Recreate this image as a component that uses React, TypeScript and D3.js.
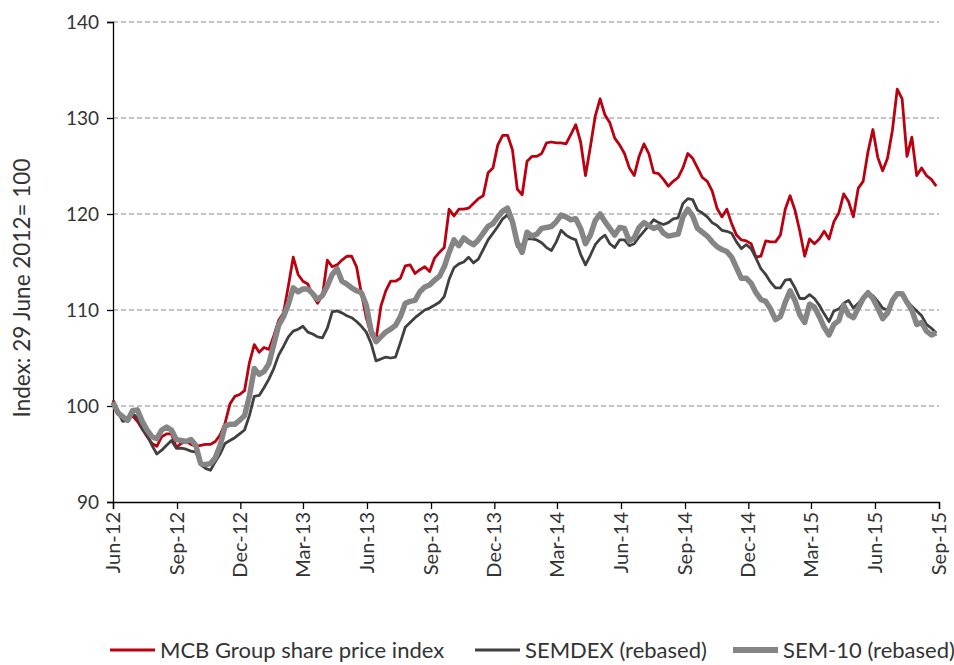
import React, { useEffect, useRef } from 'react';
import * as d3 from 'd3';

// weekly closes, first point = 29 June 2012 (index base 100)
const START_DATE = new Date(2012, 5, 29);

const mcbIndex = [
  100.6, 99.5, 98.6, 98.6, 99.0, 98.4, 97.6, 96.8, 96.1, 95.8,
  96.8, 97.1, 97.1, 95.7, 96.1, 96.3, 96.0, 95.8, 95.9, 96.0,
  96.0, 96.3, 97.0, 98.2, 100.2, 101.0, 101.2, 101.6, 104.5, 106.4,
  105.6, 106.1, 105.9, 107.3, 108.9, 109.7, 112.5, 115.5, 113.7, 113.0,
  112.7, 111.5, 110.7, 111.5, 115.2, 114.5, 114.7, 115.2, 115.6, 115.6,
  114.5, 111.7, 109.2, 107.4, 106.9, 110.4, 112.0, 113.0, 113.0, 113.3,
  114.6, 114.7, 113.8, 114.2, 114.5, 114.0, 115.4, 116.0, 116.5, 120.5,
  119.8, 120.5, 120.5, 120.6, 121.1, 121.6, 121.9, 124.3, 124.8, 127.2,
  128.2, 128.2, 126.7, 122.6, 122.0, 125.5, 126.0, 126.0, 126.3, 127.4,
  127.5, 127.4, 127.4, 127.3, 128.3, 129.3, 127.5, 124.0, 127.0, 130.2,
  132.0, 130.3, 129.5, 127.9, 127.2, 126.3, 124.8, 124.0, 126.0, 127.3,
  126.3, 124.3, 124.2, 123.6, 122.9, 123.4, 123.8, 124.8, 126.3, 125.8,
  124.8, 123.8, 123.4, 122.4, 120.6, 119.7, 120.5, 119.0, 117.8, 117.3,
  117.2, 116.9, 115.5, 115.6, 117.2, 117.1, 117.1, 117.8, 120.5, 121.9,
  120.4, 118.2, 115.6, 117.4, 116.9, 117.4, 118.2, 117.4, 119.2, 120.1,
  122.1, 121.3, 119.7, 122.7, 123.4, 126.5, 128.8, 125.9, 124.5, 125.8,
  128.7, 133.0, 132.0, 126.0, 128.0, 124.0, 124.8, 124.0, 123.6, 122.9,
];

const semdex = [
  100.5, 99.4, 98.4, 98.5, 99.2, 98.8, 97.6, 97.0, 95.9, 95.0,
  95.4, 95.9, 96.4, 95.6, 95.6, 95.5, 95.3, 95.2, 93.9, 93.5,
  93.3, 94.2, 95.0, 96.1, 96.4, 96.7, 97.1, 97.5, 99.0, 101.0,
  101.1, 101.9, 102.8, 103.9, 105.3, 106.2, 107.2, 107.8, 108.0, 108.3,
  107.7, 107.5, 107.2, 107.1, 108.1, 109.8, 109.9, 109.7, 109.4, 109.2,
  108.8, 108.3, 107.7, 106.5, 104.7, 104.9, 105.1, 105.0, 105.1, 106.6,
  108.2, 108.7, 109.2, 109.6, 110.0, 110.2, 110.5, 110.8, 111.4, 113.2,
  114.4, 114.8, 115.0, 115.5, 114.9, 115.3, 116.3, 117.3, 118.0, 118.7,
  119.5, 119.9, 119.0, 116.6, 116.8, 117.4, 117.4, 117.3, 117.0, 116.5,
  116.2, 117.1, 118.3, 117.8, 117.5, 117.3, 115.8, 114.7, 115.7, 116.8,
  117.4, 117.8, 116.9, 116.5, 117.3, 117.3, 116.7, 116.9, 117.6, 118.2,
  118.8, 119.4, 119.1, 118.9, 119.1, 119.5, 119.6, 121.1, 121.6, 121.5,
  120.4, 120.1, 119.7, 119.1, 118.8, 118.3, 118.2, 118.0, 117.1, 116.4,
  116.8, 116.4, 115.4, 114.3, 113.7, 112.9, 112.3, 112.3, 113.1, 113.2,
  112.3, 111.2, 111.2, 111.6, 111.2, 110.5, 109.6, 108.8, 109.9, 110.1,
  110.7, 111.0, 110.2, 110.7, 111.3, 111.8, 111.5, 110.9, 110.2, 110.0,
  111.0, 111.7, 111.7, 110.9, 110.4, 109.9, 109.4, 108.5, 108.1, 107.6,
];

const sem10 = [
  100.4, 99.3, 98.9, 98.5, 99.5, 99.6, 98.4, 97.5, 96.8, 96.6,
  97.5, 97.8, 97.5, 96.5, 96.4, 96.3, 96.5, 95.9, 94.0, 93.9,
  94.0, 94.6, 95.9, 97.9, 98.1, 98.1, 98.5, 99.0, 101.0, 103.9,
  103.3, 103.6, 104.4, 106.4, 108.4, 109.3, 110.6, 112.3, 111.9, 112.2,
  112.2, 111.7, 111.1, 111.5, 112.5, 113.7, 114.3, 113.0, 112.7, 112.3,
  112.0, 111.8, 110.5, 107.8, 106.7, 107.2, 107.7, 108.0, 108.4, 109.3,
  110.7, 110.9, 111.0, 111.9, 112.4, 112.6, 113.1, 113.5, 114.5, 116.0,
  117.3, 116.7, 117.5, 117.1, 116.8, 117.3, 118.0, 118.7, 119.0, 119.7,
  120.3, 120.6, 119.2, 117.0, 116.0, 118.1, 117.7, 117.9, 118.5, 118.6,
  118.7, 119.2, 119.9, 119.7, 119.4, 119.5, 118.5, 116.9, 117.8, 119.3,
  120.0, 119.2, 118.5, 117.8, 118.6, 118.5, 117.2, 117.5, 118.6, 119.1,
  118.8, 118.5, 118.7, 118.0, 117.7, 117.8, 117.9, 119.7, 120.5, 119.8,
  118.5, 118.1, 117.7, 117.1, 116.6, 116.3, 116.1, 115.5, 114.4, 113.3,
  113.3, 112.8, 111.8, 111.1, 110.9, 110.1, 109.0, 109.3, 110.8, 112.0,
  111.0, 109.5, 108.7, 110.6, 110.3, 109.3, 108.2, 107.4, 108.5, 108.9,
  110.5, 109.5, 109.2, 110.2, 111.2, 111.8, 111.2, 110.2, 109.1, 109.7,
  111.0, 111.7, 111.7, 110.8, 110.0, 108.5, 108.7, 107.8, 107.4, 107.6,
];

const yTicks = [90, 100, 110, 120, 130, 140];
// quarterly tick dates, Jun-12 .. Sep-15
const xTickDates = d3.range(14).map(k => new Date(2012, 5 + 3 * k, 29));

const seriesNames = ['MCB Group share price index', 'SEMDEX (rebased)', 'SEM-10 (rebased)'];
const seriesColors = ['#bb0010', '#404040', '#858585'];
const seriesWidths = [2.8, 2.8, 5.5];

const FONT = 'Lato, "Liberation Sans", sans-serif';

const App: React.FC = () => {
  const svgRef = useRef<SVGSVGElement | null>(null);

  useEffect(() => {
    if (!svgRef.current) return;
    const width = 954;
    const height = 665;
    const left = 113;
    const right = 939;
    const top = 22;
    const bottom = 502;

    const svg = d3.select(svgRef.current)
      .attr('width', width)
      .attr('height', height);
    svg.selectAll('*').remove();

    const x = d3.scaleTime()
      .domain([xTickDates[0], xTickDates[xTickDates.length - 1]])
      .range([left, right]);
    const y = d3.scaleLinear().domain([90, 140]).range([bottom, top]);

    // gridlines
    svg.append('g')
      .selectAll('line')
      .data(yTicks.slice(1))
      .enter()
      .append('line')
      .attr('x1', left)
      .attr('x2', right)
      .attr('y1', d => y(d))
      .attr('y2', d => y(d))
      .attr('stroke', '#8c8c8c')
      .attr('stroke-width', 1.2)
      .attr('stroke-dasharray', '5,3');

    // y axis
    const yAxis = svg.append('g')
      .attr('transform', `translate(${left},0)`)
      .call(d3.axisLeft(y).tickValues(yTicks).tickSize(6).tickPadding(8).tickFormat(d3.format('d')));
    yAxis.select('.domain').attr('stroke', '#000').attr('stroke-width', 1.3);
    yAxis.selectAll('.tick line').attr('stroke', '#000').attr('stroke-width', 1.3);
    yAxis.selectAll('.tick text')
      .attr('font-family', FONT)
      .attr('font-size', 19)
      .attr('fill', '#333');

    // x axis
    const xAxis = svg.append('g')
      .attr('transform', `translate(0,${bottom})`)
      .call(d3.axisBottom(x).tickValues(xTickDates).tickSize(7).tickFormat(() => ''));
    xAxis.select('.domain').attr('stroke', '#000').attr('stroke-width', 1.3);
    xAxis.selectAll('.tick line').attr('stroke', '#000').attr('stroke-width', 1.3);

    const fmt = d3.timeFormat('%b-%y');
    svg.append('g')
      .selectAll('text')
      .data(xTickDates)
      .enter()
      .append('text')
      .attr('transform', d => `translate(${x(d)},${bottom + 10}) rotate(-90)`)
      .attr('text-anchor', 'end')
      .attr('dy', '0.35em')
      .attr('font-family', FONT)
      .attr('font-size', 20)
      .attr('fill', '#333')
      .text(d => fmt(d));

    // y title
    svg.append('text')
      .attr('transform', `translate(22,${288}) rotate(-90)`)
      .attr('text-anchor', 'middle')
      .attr('dy', '0.35em')
      .attr('font-family', FONT)
      .attr('font-size', 22.5)
      .attr('fill', '#333')
      .text('Index: 29 June 2012= 100');

    // lines
    const allSeries = [mcbIndex, semdex, sem10];
    const line = d3.line<number>()
      .x((_, i) => x(d3.timeDay.offset(START_DATE, i * 7)))
      .y(d => y(d))
      .curve(d3.curveLinear);

    allSeries.forEach((vals, k) => {
      svg.append('path')
        .datum(vals)
        .attr('d', line)
        .attr('fill', 'none')
        .attr('stroke', seriesColors[k])
        .attr('stroke-width', seriesWidths[k])
        .attr('stroke-linejoin', 'round');
    });

    // legend
    const legendX = [110, 475, 733];
    const legendY = 650;
    const lg = svg.append('g');
    seriesNames.forEach((name, k) => {
      lg.append('line')
        .attr('x1', legendX[k])
        .attr('x2', legendX[k] + 45)
        .attr('y1', legendY)
        .attr('y2', legendY)
        .attr('stroke', seriesColors[k])
        .attr('stroke-width', seriesWidths[k] + 0.3);
      lg.append('text')
        .attr('x', legendX[k] + 50)
        .attr('y', legendY + 8)
        .attr('font-family', FONT)
        .attr('font-size', 22)
        .attr('fill', '#333')
        .text(name);
    });
  }, []);

  return (
    <div style={{ position: 'absolute', left: 0, top: 0, width: 954, height: 665, background: '#fff' }}>
      <svg ref={svgRef} style={{ display: 'block' }} />
    </div>
  );
};

export default App;
